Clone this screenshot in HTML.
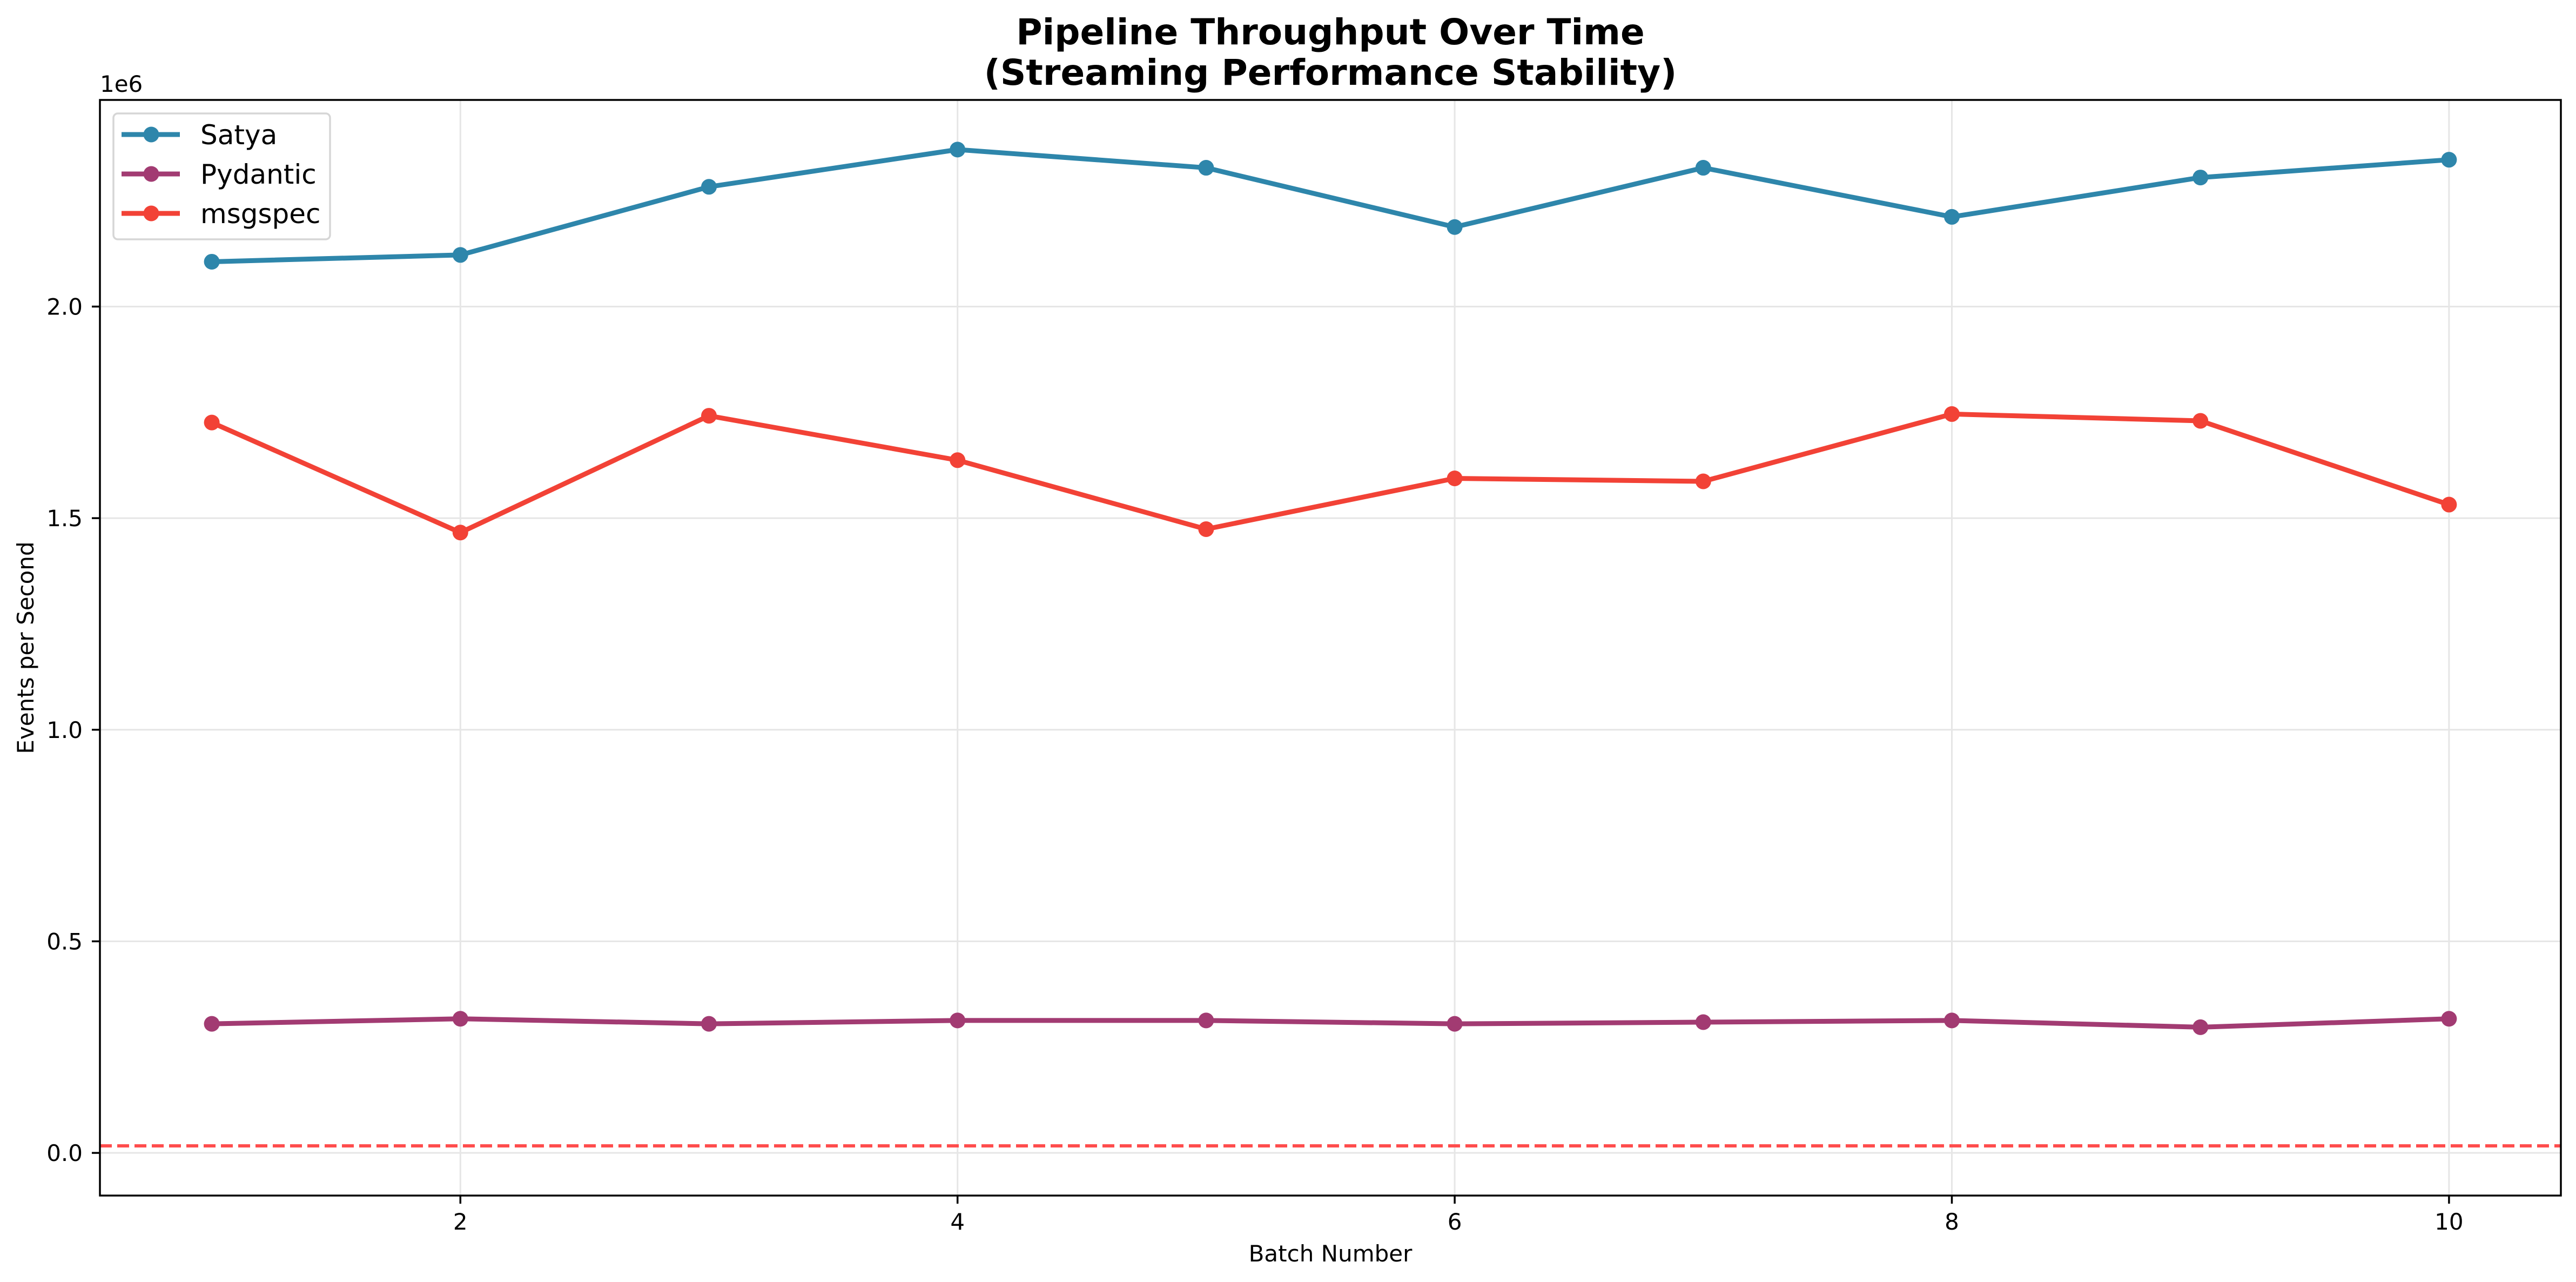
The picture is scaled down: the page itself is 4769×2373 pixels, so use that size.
<!DOCTYPE html>
<html><head><meta charset="utf-8"><style>
html,body{margin:0;padding:0;background:#fff;}
svg{display:block;font-family:"DejaVu Sans","Liberation Sans",sans-serif;}
</style></head><body>
<svg id="chart" width="4769" height="2373" viewBox="0 0 4769 2373" xmlns="http://www.w3.org/2000/svg">
<rect x="0" y="0" width="4769" height="2373" fill="#fff"/>
<text x="2463" y="82" text-anchor="middle" font-size="66" font-weight="bold">Pipeline Throughput Over Time</text>
<text x="2463" y="157" text-anchor="middle" font-size="66" font-weight="bold">(Streaming Performance Stability)</text>
<g id="grid"></g>
<g id="marks"></g>
<g id="axes"></g>
<text x="185" y="170" font-size="42">1e6</text>
<text x="2463" y="2335" text-anchor="middle" font-size="42">Batch Number</text>
<text transform="translate(62,1199) rotate(-90)" text-anchor="middle" font-size="42">Events per Second</text>
<g id="legend"></g>
</svg>
<script>
const batches = [1,2,3,4,5,6,7,8,9,10];
const satya = [2.106,2.122,2.283,2.371,2.328,2.188,2.328,2.212,2.305,2.347];
const pydantic = [0.305,0.317,0.305,0.313,0.313,0.305,0.309,0.313,0.297,0.317];
const msgspec = [1.726,1.466,1.742,1.637,1.474,1.594,1.587,1.746,1.730,1.532];
const thresholdValue = 0.0166;
const xTicks = [2,4,6,8,10];
const yTicks = [0,0.5,1.0,1.5,2.0];
const yTickLabels = ["0.0","0.5","1.0","1.5","2.0"];
const seriesNames = ["Satya","Pydantic","msgspec"];

const L=185,R=4741,T=185,B=2213;
const xMin=0.55,xMax=10.45,yMin=-0.1008,yMax=2.4883;
function xs(v){return L+(v-xMin)/(xMax-xMin)*(R-L);}
function ys(v){return B-(v-yMin)/(yMax-yMin)*(B-T);}
const NS="http://www.w3.org/2000/svg";
function mk(tag,attrs,parent){const e=document.createElementNS(NS,tag);for(const k in attrs)e.setAttribute(k,attrs[k]);parent.appendChild(e);return e;}
const grid=document.getElementById('grid'),marks=document.getElementById('marks'),axes=document.getElementById('axes'),legend=document.getElementById('legend');

xTicks.forEach(t=>{
  const g=mk('line',{x1:xs(t),x2:xs(t),y1:T,y2:B,stroke:'#e6e6e6','stroke-width':3},grid);
  
  
  const tk=mk('line',{x1:xs(t),x2:xs(t),y1:B,y2:B+15,stroke:'#000','stroke-width':3.5},axes);
  
  
  const lb=mk('text',{x:xs(t),y:2276,'text-anchor':'middle','font-size':42},axes);
  lb.textContent=String(t);
  
  
});
yTicks.forEach((t,i)=>{
  const g=mk('line',{x1:L,x2:R,y1:ys(t),y2:ys(t),stroke:'#e6e6e6','stroke-width':3},grid);
  
  
  const tk=mk('line',{x1:L-15,x2:L,y1:ys(t),y2:ys(t),stroke:'#000','stroke-width':3.5},axes);
  
  
  const lb=mk('text',{x:153,y:ys(t)+15,'text-anchor':'end','font-size':42},axes);
  lb.textContent=yTickLabels[i];
  
  
});

const th=mk('line',{x1:L,x2:R,y1:ys(thresholdValue),y2:ys(thresholdValue),stroke:'#ff4d4d','stroke-width':6,'stroke-dasharray':'22 10'},marks);



const allSeries=[satya,pydantic,msgspec];
const colors=['#2E86AB','#A23B72','#F24236'];
allSeries.forEach((s,si)=>{
  const pts=s.map((v,i)=>xs(batches[i])+','+ys(v)).join(' ');
  const pl=mk('polyline',{points:pts,fill:'none',stroke:colors[si],'stroke-width':9,'stroke-linejoin':'round'},marks);
  
  
  s.forEach((v,i)=>{
    const c=mk('circle',{cx:xs(batches[i]),cy:ys(v),r:14.5,fill:colors[si]},marks);
    
    
  });
});

const fr=mk('rect',{x:L,y:T,width:R-L,height:B-T,fill:'none',stroke:'#000','stroke-width':3.5},axes);



const lb=mk('rect',{x:210,y:210,width:401,height:233,rx:8,fill:'#fff','fill-opacity':0.85,stroke:'#d6d6d6','stroke-width':3.5},legend);


const ly=[249,322,395];
seriesNames.forEach((n,i)=>{
  const ln=mk('line',{x1:225,x2:333,y1:ly[i],y2:ly[i],stroke:colors[i],'stroke-width':9},legend);
  
  
  const c=mk('circle',{cx:280,cy:ly[i],r:14.5,fill:colors[i]},legend);
  
  
  const t=mk('text',{x:371,y:ly[i]+18,'font-size':50},legend);
  t.textContent=n;
  
  
});
</script>
</body></html>
